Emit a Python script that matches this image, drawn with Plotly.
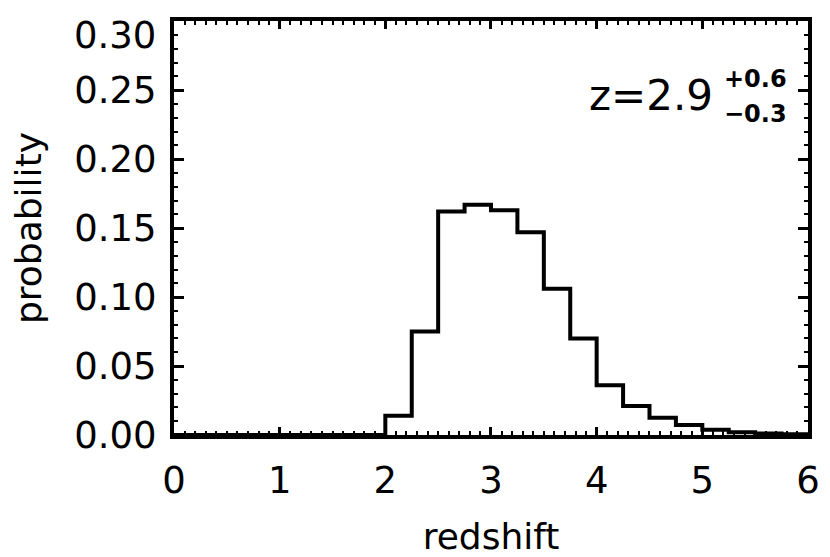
import plotly.graph_objects as go

# histogram bins (width 0.25) of the redshift probability distribution
bin_left = [0.0, 0.25, 0.5, 0.75, 1.0, 1.25, 1.5, 1.75,
            2.0, 2.25, 2.5, 2.75, 3.0, 3.25, 3.5, 3.75,
            4.0, 4.25, 4.5, 4.75, 5.0, 5.25, 5.5, 5.75]
bin_width = 0.25
probability = [0.0, 0.0, 0.0, 0.0, 0.0, 0.0, 0.0, 0.0,
               0.014, 0.075, 0.162, 0.167, 0.163, 0.147, 0.106, 0.070,
               0.036, 0.021, 0.0125, 0.0072, 0.0038, 0.002, 0.001, 0.0005]

x_ticks = [0, 1, 2, 3, 4, 5, 6]
y_ticks = [0.00, 0.05, 0.10, 0.15, 0.20, 0.25, 0.30]

z_best = "2.9"
z_up = "+0.6"
z_down = "\u22120.3"

FONT = "DejaVu Sans"

# step outline: left edges plus closing right edge
xs = bin_left + [bin_left[-1] + bin_width]
ys = probability + [probability[-1]]

fig = go.Figure()
fig.add_trace(go.Scatter(
    x=xs, y=ys, mode="lines",
    line=dict(color="black", width=4, shape="hv"),
    showlegend=False, hoverinfo="skip",
))

# top label sits a little below its tick (as in the original), so it is drawn separately
y_labels = ["%.2f" % v for v in y_ticks]
top_label = y_labels[-1]
y_labels[-1] = ""

fig.update_xaxes(
    range=[0, 6.0001], tickvals=x_ticks, ticktext=[str(v) for v in x_ticks],
    ticks="inside", ticklen=8, tickwidth=3, tickcolor="black",
    showline=True, linewidth=4, linecolor="black", mirror="ticks",
    showgrid=False, zeroline=False,
    minor=dict(ticks="inside", ticklen=4, tickwidth=2, dtick=0.1,
               tickcolor="black", showgrid=False),
    tickfont=dict(family=FONT, size=37, color="black"),
    ticklabelstandoff=10, ticklabeloverflow="allow",
    title=dict(text="redshift", font=dict(family=FONT, size=36, color="black"),
               standoff=25),
    automargin=False,
)
fig.update_yaxes(
    range=[0, 0.3002], tickvals=y_ticks, ticktext=y_labels,
    ticks="inside", ticklen=10, tickwidth=3, tickcolor="black",
    showline=True, linewidth=4, linecolor="black", mirror="ticks",
    showgrid=False, zeroline=False,
    minor=dict(ticks="inside", ticklen=4, tickwidth=2, dtick=0.01,
               tickcolor="black", showgrid=False),
    tickfont=dict(family=FONT, size=37, color="black"),
    ticklabelstandoff=6, ticklabeloverflow="allow",
    title=dict(text="probability", font=dict(family=FONT, size=36, color="black"),
               standoff=32),
    automargin=False,
)

fig.add_annotation(
    xref="paper", yref="paper", x=-0.026, y=0.964,
    xanchor="right", yanchor="middle", showarrow=False,
    text=top_label, font=dict(family=FONT, size=37, color="black"),
)

fig.add_annotation(
    xref="paper", yref="paper", x=0.853, y=0.821,
    xanchor="right", yanchor="middle", showarrow=False,
    text="z=" + z_best, font=dict(family=FONT, size=42, color="black"),
)
fig.add_annotation(
    xref="paper", yref="paper", x=0.864, y=0.86,
    xanchor="left", yanchor="middle", showarrow=False,
    text="<b>" + z_up + "</b>", font=dict(family=FONT, size=24, color="black"),
)
fig.add_annotation(
    xref="paper", yref="paper", x=0.864, y=0.775,
    xanchor="left", yanchor="middle", showarrow=False,
    text="<b>" + z_down + "</b>", font=dict(family=FONT, size=24, color="black"),
)

# page body adds an 8px offset, so the figure is shrunk to fit the window
fig.update_layout(
    width=822, height=549,
    margin=dict(l=166, r=22, t=13, b=122),
    plot_bgcolor="white", paper_bgcolor="white",
)

fig.write_html("out.html")
